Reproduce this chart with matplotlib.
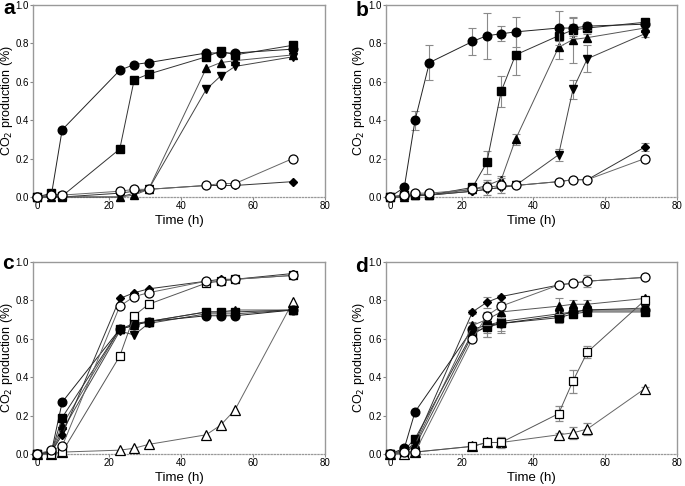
import numpy as np
import matplotlib
matplotlib.use("Agg")
import matplotlib.pyplot as plt

plt.rcParams['font.family'] = ['Liberation Sans', 'DejaVu Sans']

# ---------------- data ----------------
time_a = [0, 4, 7, 23, 27, 31, 47, 51, 55, 71]
a_circle = [0.0, 0.01, 0.35, 0.66, 0.69, 0.70, 0.75, 0.75, 0.75, 0.77]
a_square = [0.0, 0.02, 0.005, 0.25, 0.61, 0.64, 0.73, 0.76, 0.74, 0.79]
a_tri_up = [0.0, 0.0, 0.0, 0.0, 0.01, 0.04, 0.67, 0.70, 0.71, 0.74]
a_tri_down = [0.0, 0.0, 0.0, 0.0, 0.02, 0.04, 0.56, 0.63, 0.68, 0.73]
a_diamond = [0.0, 0.0, 0.0, 0.02, 0.03, 0.04, 0.06, 0.06, 0.06, 0.08]
a_open_circle = [0.0, 0.01, 0.01, 0.03, 0.04, 0.04, 0.06, 0.07, 0.07, 0.20]

time_b = [0, 4, 7, 11, 23, 27, 31, 35, 47, 51, 55, 71]
b_circle = [0.0, 0.05, 0.40, 0.70, 0.81, 0.84, 0.85, 0.86, 0.88, 0.88, 0.89, 0.90]
b_circle_err = [0, 0, 0.05, 0.09, 0.07, 0.12, 0.04, 0.08, 0.09, 0.05, 0.02, 0.01]
b_square = [0.0, 0.01, 0.01, 0.01, 0.05, 0.18, 0.55, 0.74, 0.84, 0.87, 0.88, 0.91]
b_square_err = [0, 0, 0, 0, 0.01, 0.06, 0.08, 0.105, 0.03, 0.03, 0.02, 0.01]
b_tri_up = [0.0, 0.0, 0.01, 0.01, 0.04, 0.06, 0.09, 0.30, 0.78, 0.82, 0.83, 0.88]
b_tri_up_err = [0, 0, 0, 0, 0.01, 0.02, 0.02, 0.03, 0.06, 0.12, 0.02, 0.01]
b_tri_down = [0.0, 0.0, 0.01, 0.01, 0.03, 0.04, 0.05, 0.06, 0.22, 0.56, 0.72, 0.85]
b_tri_down_err = [0, 0, 0, 0, 0, 0.01, 0.01, 0.01, 0.03, 0.05, 0.07, 0.015]
b_diamond = [0.0, 0.0, 0.01, 0.01, 0.03, 0.04, 0.05, 0.06, 0.08, 0.09, 0.09, 0.26]
b_diamond_err = [0, 0, 0, 0, 0, 0, 0, 0, 0.01, 0.01, 0.01, 0.02]
b_open_circle = [0.0, 0.01, 0.02, 0.02, 0.04, 0.05, 0.06, 0.06, 0.08, 0.09, 0.09, 0.20]
b_open_circle_err = [0, 0, 0, 0, 0.01, 0.04, 0.04, 0.01, 0.01, 0.01, 0.01, 0.015]

time_c = [0, 4, 7, 23, 27, 31, 47, 51, 55, 71]
c_circle = [0.0, 0.01, 0.27, 0.65, 0.67, 0.69, 0.72, 0.72, 0.72, 0.75]
c_square = [0.0, 0.01, 0.19, 0.65, 0.68, 0.69, 0.74, 0.74, 0.74, 0.75]
c_tri_up = [0.0, 0.01, 0.15, 0.65, 0.67, 0.69, 0.74, 0.74, 0.75, 0.75]
c_tri_down = [0.0, 0.01, 0.12, 0.64, 0.62, 0.68, 0.73, 0.73, 0.73, 0.75]
c_diamond = [0.0, 0.01, 0.10, 0.81, 0.84, 0.86, 0.90, 0.91, 0.91, 0.94]
c_open_circle = [0.0, 0.02, 0.04, 0.77, 0.82, 0.84, 0.90, 0.90, 0.91, 0.93]
c_open_square = [0.0, 0.0, 0.01, 0.51, 0.72, 0.78, 0.89, 0.90, 0.91, 0.93]
c_open_triangle = [0.0, 0.0, 0.01, 0.02, 0.03, 0.05, 0.10, 0.15, 0.23, 0.79]

time_d = [0, 4, 7, 23, 27, 31, 47, 51, 55, 71]
d_circle = [0.0, 0.03, 0.22, 0.65, 0.67, 0.68, 0.72, 0.74, 0.75, 0.75]
d_circle_err = [0, 0, 0, 0.03, 0.06, 0.05, 0.03, 0.02, 0.02, 0.01]
d_square = [0.0, 0.02, 0.08, 0.63, 0.66, 0.68, 0.71, 0.73, 0.74, 0.74]
d_square_err = [0, 0, 0, 0.02, 0.05, 0.04, 0.03, 0.02, 0.02, 0.01]
d_tri_up = [0.0, 0.01, 0.05, 0.67, 0.70, 0.74, 0.77, 0.78, 0.78, 0.81]
d_tri_up_err = [0, 0, 0, 0.02, 0.03, 0.03, 0.04, 0.02, 0.02, 0.01]
d_tri_down = [0.0, 0.01, 0.04, 0.62, 0.67, 0.69, 0.73, 0.74, 0.75, 0.76]
d_tri_down_err = [0, 0, 0, 0.02, 0.04, 0.03, 0.03, 0.02, 0.02, 0.01]
d_diamond = [0.0, 0.01, 0.06, 0.74, 0.79, 0.82, 0.88, 0.89, 0.90, 0.92]
d_diamond_err = [0, 0, 0, 0.01, 0.03, 0.01, 0.01, 0.01, 0.01, 0.01]
d_open_circle = [0.0, 0.01, 0.01, 0.60, 0.72, 0.77, 0.88, 0.89, 0.90, 0.92]
d_open_circle_err = [0, 0, 0, 0.01, 0.02, 0.02, 0.01, 0.01, 0.03, 0.01]
d_open_square = [0.0, 0.01, 0.01, 0.04, 0.06, 0.06, 0.21, 0.38, 0.53, 0.80]
d_open_square_err = [0, 0, 0, 0.01, 0.02, 0.03, 0.04, 0.06, 0.03, 0.02]
d_open_triangle = [0.0, 0.0, 0.01, 0.04, 0.06, 0.06, 0.10, 0.11, 0.13, 0.34]
d_open_triangle_err = [0, 0, 0, 0.01, 0.01, 0.01, 0.01, 0.03, 0.03, 0.01]

x_ticks = [0, 20, 40, 60, 80]
y_ticks = [0.0, 0.2, 0.4, 0.6, 0.8, 1.0]
panel_labels = ['a', 'b', 'c', 'd']

# ---------------- styles ----------------
STY = {
    'circle': dict(marker='o', ms=6.2, mfc='black', mec='black'),
    'square': dict(marker='s', ms=5.6, mfc='black', mec='black'),
    'tri_up': dict(marker='^', ms=6.0, mfc='black', mec='black'),
    'tri_down': dict(marker='v', ms=6.0, mfc='black', mec='black'),
    'diamond': dict(marker='D', ms=4.2, mfc='black', mec='black'),
    'open_circle': dict(marker='o', ms=6.5, mfc='white', mec='black', mew=0.9),
    'open_square': dict(marker='s', ms=6.0, mfc='white', mec='black', mew=0.9),
    'open_triangle': dict(marker='^', ms=6.5, mfc='white', mec='black', mew=0.9),
}
LINE_C = {'circle': '#222222', 'square': '#333333', 'tri_up': '#555555',
          'tri_down': '#444444', 'diamond': '#333333', 'open_circle': '#666666',
          'open_square': '#555555', 'open_triangle': '#666666'}

fig = plt.figure(figsize=(6.85, 4.86), dpi=100)
W, H = 685.0, 486.0
boxes = [(33, 5, 325, 197), (386, 5, 677, 197), (33, 262, 325, 454), (386, 262, 677, 454)]
ylabel_right = [15, 367, 15, 367]
letter_pos = [(9, 9), (362, 10), (8, 263), (362, 267)]
axes = []
for (l, t, r, b) in boxes:
    axes.append(fig.add_axes([l / W, 1 - b / H, (r - l) / W, (b - t) / H]))


def draw(ax, t, key, y, err=None, z=3):
    sty = STY[key]
    if err is None:
        ax.plot(t, y, color=LINE_C[key], lw=0.7, zorder=z, clip_on=False, **sty)
    else:
        ax.errorbar(t, y, yerr=err, color=LINE_C[key], lw=0.7, ecolor='#8a8a8a',
                    elinewidth=0.8, capsize=3, capthick=0.8, zorder=z,
                    clip_on=False, **sty)


ax = axes[0]
draw(ax, time_a, 'diamond', a_diamond, z=3)
draw(ax, time_a, 'tri_down', a_tri_down, z=3.1)
draw(ax, time_a, 'tri_up', a_tri_up, z=3.2)
draw(ax, time_a, 'square', a_square, z=3.3)
draw(ax, time_a, 'circle', a_circle, z=3.4)
draw(ax, time_a, 'open_circle', a_open_circle, z=3.5)

ax = axes[1]
draw(ax, time_b, 'diamond', b_diamond, b_diamond_err, z=3)
draw(ax, time_b, 'tri_down', b_tri_down, b_tri_down_err, z=3.1)
draw(ax, time_b, 'tri_up', b_tri_up, b_tri_up_err, z=3.2)
draw(ax, time_b, 'square', b_square, b_square_err, z=3.3)
draw(ax, time_b, 'circle', b_circle, b_circle_err, z=3.4)
draw(ax, time_b, 'open_circle', b_open_circle, b_open_circle_err, z=3.5)

ax = axes[2]
draw(ax, time_c, 'open_triangle', c_open_triangle, z=3)
draw(ax, time_c, 'tri_down', c_tri_down, z=3.1)
draw(ax, time_c, 'tri_up', c_tri_up, z=3.2)
draw(ax, time_c, 'circle', c_circle, z=3.3)
draw(ax, time_c, 'square', c_square, z=3.4)
draw(ax, time_c, 'diamond', c_diamond, z=3.5)
draw(ax, time_c, 'open_square', c_open_square, z=3.6)
draw(ax, time_c, 'open_circle', c_open_circle, z=3.7)

ax = axes[3]
draw(ax, time_d, 'diamond', d_diamond, d_diamond_err, z=3)
draw(ax, time_d, 'tri_down', d_tri_down, d_tri_down_err, z=3.1)
draw(ax, time_d, 'square', d_square, d_square_err, z=3.2)
draw(ax, time_d, 'circle', d_circle, d_circle_err, z=3.3)
draw(ax, time_d, 'tri_up', d_tri_up, d_tri_up_err, z=3.4)
draw(ax, time_d, 'open_triangle', d_open_triangle, d_open_triangle_err, z=3.5)
draw(ax, time_d, 'open_square', d_open_square, d_open_square_err, z=3.6)
draw(ax, time_d, 'open_circle', d_open_circle, d_open_circle_err, z=3.7)

for i, (ax, lab) in enumerate(zip(axes, panel_labels)):
    l, t, r, b = boxes[i]
    ax.set_xlim(-1.1, 80)
    ax.set_ylim(0, 1.0)
    ax.set_xticks(x_ticks)
    ax.set_yticks(y_ticks)
    ax.set_yticklabels([f"{v:.1f}" for v in y_ticks])
    ax.tick_params(labelsize=7.0, length=2, width=0.8, color='#888888', pad=1.0)
    for s in ['top', 'right', 'left']:
        ax.spines[s].set_color('#999999')
        ax.spines[s].set_linewidth(1.0)
    ax.spines['bottom'].set_color('#999999')
    ax.spines['bottom'].set_linestyle((0, (1, 1.5)))
    ax.spines['bottom'].set_linewidth(0.9)
    ax.set_xlabel('Time (h)', fontsize=9.5, labelpad=3)
    ax.set_ylabel('CO$_2$ production (%)', fontsize=9.0)
    ax.yaxis.set_label_coords((ylabel_right[i] - l) / (r - l), 0.5)
    lx, ly = letter_pos[i]
    fig.text(lx / W, 1 - ly / H, lab, fontsize=15, fontweight='bold',
             ha='center', va='center')

fig.savefig('out.png', dpi=100)
